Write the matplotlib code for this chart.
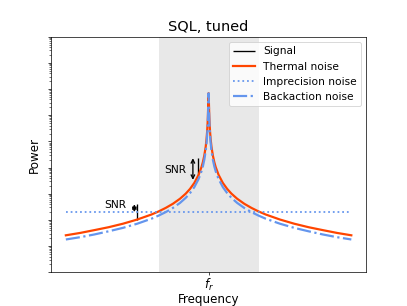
import numpy as np
import matplotlib
matplotlib.use("Agg")
import matplotlib.pyplot as plt
from matplotlib.ticker import LogLocator, NullFormatter

# frequency offsets from f_r (arbitrary units), one side; mirrored below
offsets = [0, 0.001, 0.002, 0.003, 0.005, 0.007, 0.01, 0.014, 0.02, 0.03,
           0.04, 0.05, 0.07, 0.1, 0.13, 0.16, 0.2, 0.25, 0.3, 0.35, 0.4,
           0.5, 0.6, 0.7, 0.8, 0.9, 1.0]
# power (log axis)
thermal = [7.0e6, 5.5e6, 3.4e6, 2.05e6, 9.1e5, 4.9e5, 2.5e5, 1.3e5, 6.4e4,
           2.9e4, 1.62e4, 1.04e4, 5300, 2600, 1540, 1015, 650, 416, 290,
           212, 162, 104, 72, 53, 41, 32, 26]
backaction = [6.9e6, 5.0e6, 2.7e6, 1.55e6, 6.5e5, 3.5e5, 1.75e5, 9.1e4,
              4.5e4, 2.0e4, 1.12e4, 7200, 3670, 1800, 1065, 703, 450, 288,
              200, 147, 112, 72, 50, 37, 28, 22, 18]
imprecision = 200

# signal lines: frequency, bottom (noise) and top
sig_freq = [-0.5, -0.072]
sig_low = [104, 4700]
sig_high = [400, 23000]

# SNR arrows: position and ends
snr_x = [-0.52, -0.11]
snr_top = [400, 23000]
snr_bot = [200, 3400]

band = (-0.35, 0.35)

freq = np.array([-o for o in offsets[::-1]] + offsets[1:])
th = np.array(thermal[::-1] + thermal[1:])
ba = np.array(backaction[::-1] + backaction[1:])

fig = plt.figure(figsize=(407 / 63.6, 306 / 63.6), dpi=63.6)
ax = fig.add_subplot(111)

ax.axvspan(*band, color='lightgray', alpha=0.5, lw=0)

ax.vlines(sig_freq, sig_low, sig_high, color='black', lw=1.5, label='Signal')
ax.plot(freq, th, color='orangered', lw=2.5, label='Thermal noise')
ax.plot([freq[0], freq[-1]], [imprecision, imprecision], color='cornflowerblue',
        ls=':', lw=2, label='Imprecision noise')
ax.plot(freq, ba, color='cornflowerblue', ls='-.', lw=2.5, label='Backaction noise')

for x, t, b in zip(snr_x, snr_top, snr_bot):
    ax.annotate('', xy=(x, t), xytext=(x, b),
                arrowprops=dict(arrowstyle='<->', color='black', lw=1.5,
                                shrinkA=0, shrinkB=0))
ax.text(-0.575, 370, 'SNR', ha='right', va='center', fontsize=12)
ax.text(-0.155, 8000, 'SNR', ha='right', va='center', fontsize=12)

ax.set_yscale('log')
ax.set_ylim(1, 1e9)
ax.set_xlim(-1.105, 1.105)
ax.yaxis.set_major_locator(LogLocator(base=10, numticks=20))
ax.yaxis.set_minor_locator(LogLocator(base=10, subs=np.arange(2, 10), numticks=100))
ax.yaxis.set_major_formatter(NullFormatter())
ax.yaxis.set_minor_formatter(NullFormatter())
ax.set_xticks([0])
ax.set_xticklabels(['$f_r$'], fontsize=13.5)
ax.tick_params(axis='x', pad=1.5)

ax.set_xlabel('Frequency', fontsize=13.5, labelpad=0)
ax.set_ylabel('Power', fontsize=13.5)
ax.set_title('SQL, tuned', fontsize=16.5)
ax.legend(loc='upper right', fontsize=12)

fig.savefig('out.png', dpi=63.6)
